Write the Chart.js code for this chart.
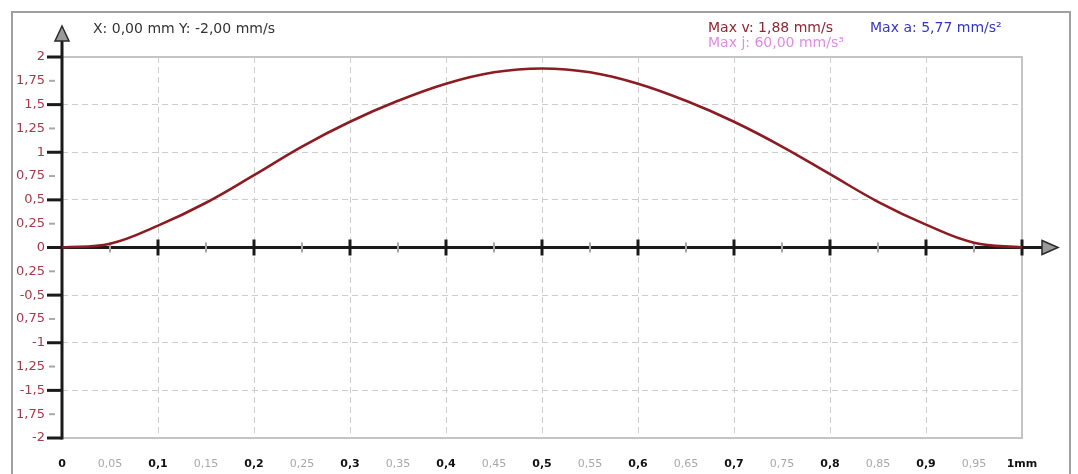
<!DOCTYPE html>
<html>
<head>
<meta charset="utf-8">
<script src="https://cdn.jsdelivr.net/npm/chart.js@4"></script>
<style>
    html, body { margin: 0; padding: 0; background: #fff; }
    #wrap { width: 1078px; height: 474px; }
</style>
</head>
<body>
<div id="wrap"><canvas id="velocityChart" width="1078" height="474"></canvas></div>
<script>
// Position (mm) and velocity (mm/s)
const positions = [0, 0.05, 0.1, 0.15, 0.2, 0.25, 0.3, 0.35, 0.4, 0.45, 0.5,
                   0.55, 0.6, 0.65, 0.7, 0.75, 0.8, 0.85, 0.9, 0.95, 1];
const velocity = [0, 0.04, 0.23, 0.47, 0.76, 1.06, 1.32, 1.54, 1.72, 1.84, 1.88,
                  1.84, 1.72, 1.54, 1.32, 1.06, 0.77, 0.48, 0.24, 0.05, 0];

// tick labels, as shown (x left to right, y bottom to top)
const xTickLabels = ['0', '0,05', '0,1', '0,15', '0,2', '0,25', '0,3', '0,35', '0,4', '0,45', '0,5',
                     '0,55', '0,6', '0,65', '0,7', '0,75', '0,8', '0,85', '0,9', '0,95', '1mm'];
const yTickLabels = ['-2', '1,75', '-1,5', '1,25', '-1', '0,75', '-0,5', '0,25', '0',
                     '0,25', '0,5', '0,75', '1', '1,25', '1,5', '1,75', '2'];

const cursorText = 'X: 0,00 mm Y: -2,00 mm/s';
const maxTexts = [
    { text: 'Max v: 1,88 mm/s', color: '#8e2632', x: 708, y: 32 },
    { text: 'Max a: 5,77 mm/s\u00b2', color: '#3636c4', x: 870, y: 32 },
    { text: 'Max j: 60,00 mm/s\u00b3', color: '#e08be6', x: 708, y: 47 }
];

const FONT = 'DejaVu Sans';
const gridColor = '#cdcdcd';

function arrow(ctx, pts) {
    ctx.beginPath();
    ctx.moveTo(pts[0][0], pts[0][1]);
    ctx.lineTo(pts[1][0], pts[1][1]);
    ctx.lineTo(pts[2][0], pts[2][1]);
    ctx.closePath();
    ctx.fillStyle = '#9a9a9a';
    ctx.fill();
    ctx.lineWidth = 1.5;
    ctx.strokeStyle = '#2a2a2a';
    ctx.stroke();
}

const axesPlugin = {
    id: 'axesPlugin',
    beforeDraw(chart) {
        const ctx = chart.ctx;
        ctx.save();
        ctx.fillStyle = '#fff';
        ctx.fillRect(0, 0, chart.width, chart.height);
        // outer panel frame
        ctx.strokeStyle = '#a0a0a0';
        ctx.lineWidth = 2;
        ctx.beginPath();
        ctx.moveTo(12, chart.height);
        ctx.lineTo(12, 12);
        ctx.lineTo(1070, 12);
        ctx.lineTo(1070, chart.height);
        ctx.stroke();
        ctx.restore();
    },
    beforeDatasetsDraw(chart) {
        const ctx = chart.ctx;
        const a = chart.chartArea;
        const xs = chart.scales.x;
        const ys = chart.scales.y;
        const x0 = xs.getPixelForValue(0);
        const y0 = ys.getPixelForValue(0);
        ctx.save();

        // plot frame: top, right, bottom
        ctx.strokeStyle = '#c4c4c4';
        ctx.lineWidth = 2;
        ctx.beginPath();
        ctx.moveTo(a.left, a.top);
        ctx.lineTo(a.right, a.top);
        ctx.lineTo(a.right, a.bottom);
        ctx.lineTo(a.left, a.bottom);
        ctx.stroke();

        // x axis
        ctx.strokeStyle = '#1a1a1a';
        ctx.lineWidth = 3;
        ctx.beginPath();
        ctx.moveTo(x0, y0);
        ctx.lineTo(1042, y0);
        ctx.stroke();
        xs.ticks.forEach((t, i) => {
            if (i === 0) return;
            const px = xs.getPixelForValue(t.value);
            ctx.beginPath();
            if (i % 2 === 0) {
                ctx.strokeStyle = '#1a1a1a';
                ctx.lineWidth = 3;
                ctx.moveTo(px, y0 - 8);
                ctx.lineTo(px, y0 + 8);
            } else {
                ctx.strokeStyle = '#a8a8a8';
                ctx.lineWidth = 2;
                ctx.moveTo(px, y0 - 5);
                ctx.lineTo(px, y0 + 5);
            }
            ctx.stroke();
        });

        // y axis
        ctx.strokeStyle = '#1a1a1a';
        ctx.lineWidth = 3;
        ctx.beginPath();
        ctx.moveTo(x0, a.bottom + 1.5);
        ctx.lineTo(x0, 40);
        ctx.stroke();
        ys.ticks.forEach((t, i) => {
            const py = ys.getPixelForValue(t.value);
            ctx.beginPath();
            if (i % 2 === 0) {
                ctx.strokeStyle = '#1a1a1a';
                ctx.lineWidth = 3;
                ctx.moveTo(x0 - 15, py);
                ctx.lineTo(x0, py);
            } else {
                ctx.strokeStyle = '#a8a8a8';
                ctx.lineWidth = 2;
                ctx.moveTo(x0 - 13, py);
                ctx.lineTo(x0 - 7, py);
            }
            ctx.stroke();
        });

        arrow(ctx, [[x0, 26], [x0 - 7, 41], [x0 + 7, 41]]);
        arrow(ctx, [[1058, y0], [1042, y0 - 7], [1042, y0 + 7]]);
        ctx.restore();
    },
    afterDraw(chart) {
        const ctx = chart.ctx;
        ctx.save();
        ctx.textBaseline = 'alphabetic';
        ctx.textAlign = 'left';
        ctx.font = '14px "' + FONT + '"';
        ctx.fillStyle = '#333';
        ctx.fillText(cursorText, 93, 33);
        maxTexts.forEach(m => {
            ctx.fillStyle = m.color;
            ctx.fillText(m.text, m.x, m.y);
        });
        ctx.restore();
    }
};

const ctxVelocity = document.getElementById('velocityChart').getContext('2d');

const velocityChart = new Chart(ctxVelocity, {
    type: 'line',
    data: {
        datasets: [{
            label: 'v',
            data: positions.map((x, i) => ({ x: x, y: velocity[i] })),
            borderColor: '#8b1c22',
            borderWidth: 2.6,
            pointRadius: 0,
            fill: false,
            tension: 0.4
        }]
    },
    options: {
        responsive: false,
        animation: false,
        devicePixelRatio: 1,
        layout: { padding: { left: 12, top: 57, right: 56, bottom: 0 } },
        plugins: {
            legend: { display: false },
            tooltip: { enabled: false }
        },
        scales: {
            x: {
                type: 'linear',
                min: 0,
                max: 1,
                afterFit: s => { s.height = 36; s.paddingLeft = 0; s.paddingRight = 0; },
                border: { display: false, dash: [6, 4] },
                grid: {
                    drawTicks: false,
                    lineWidth: 1,
                    color: c => (c.index % 2 === 0 && c.index > 0 && c.index < 20) ? gridColor : 'transparent'
                },
                ticks: {
                    stepSize: 0.05,
                    maxTicksLimit: 30,
                    autoSkip: false,
                    maxRotation: 0,
                    padding: 20,
                    callback: (v, i) => xTickLabels[i],
                    color: c => c.index % 2 === 0 ? '#111' : '#a8a8a8',
                    font: c => ({ family: FONT, size: 11, weight: c.index % 2 === 0 ? 'bold' : 'normal' })
                }
            },
            y: {
                min: -2,
                max: 2,
                afterFit: s => { s.width = 50; s.paddingTop = 0; s.paddingBottom = 0; },
                border: { display: false, dash: [6, 4] },
                grid: {
                    drawTicks: false,
                    lineWidth: 1,
                    color: c => (c.index % 2 === 0 && c.index > 0 && c.index < 16 && c.index !== 8) ? gridColor : 'transparent'
                },
                ticks: {
                    stepSize: 0.25,
                    maxTicksLimit: 30,
                    autoSkip: false,
                    padding: 17,
                    callback: (v, i) => yTickLabels[i],
                    color: '#a8384a',
                    font: { family: FONT, size: 13 }
                }
            }
        }
    },
    plugins: [axesPlugin]
});
</script>
</body>
</html>
